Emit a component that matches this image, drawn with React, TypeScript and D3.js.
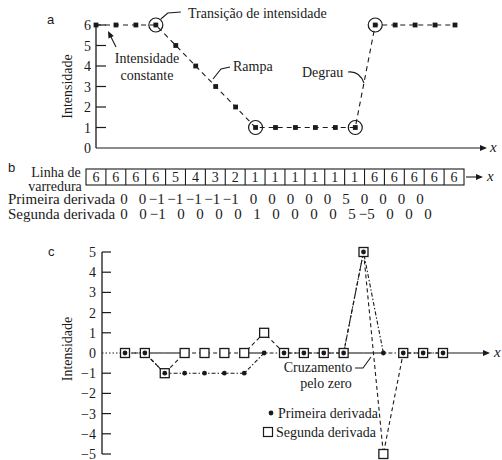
import React from 'react';
import * as d3 from 'd3';

// valores
const scanLine = [6, 6, 6, 6, 5, 4, 3, 2, 1, 1, 1, 1, 1, 1, 6, 6, 6, 6, 6];
const transitionPoints = [3, 8, 13, 14];
const intensityTicks = [0, 1, 2, 3, 4, 5, 6];
const firstDerivative = [0, 0, -1, -1, -1, -1, -1, 0, 0, 0, 0, 0, 5, 0, 0, 0, 0];
const secondDerivative = [0, 0, -1, 0, 0, 0, 0, 1, 0, 0, 0, 0, 5, -5, 0, 0, 0];
const derivativeTicks = [-5, -4, -3, -2, -1, 0, 1, 2, 3, 4, 5];

const SERIF = 'Liberation Serif';
const SANS = 'Liberation Sans';
const ink = '#1a1a1a';

const fmt = (v: number) => (v < 0 ? `\u2212${-v}` : `${v}`);

const Arrow = ({ x, y, angle = 0 }: { x: number; y: number; angle?: number }) => (
  <path d="M0,0 L-7,-3 L-7,3 Z" fill={ink} transform={`translate(${x},${y}) rotate(${angle})`} />
);

const T = (props: any) => (
  <text fontFamily={SERIF} fontSize={14} fill={ink} {...props} />
);

const App = () => {
  const width = 502;
  const height = 460;

  // painel a
  const xA = d3.scaleLinear().domain([0, scanLine.length - 1]).range([96, 455]);
  const yA = d3.scaleLinear().domain([0, 6]).range([148, 25]);
  const lineA = d3.line<number>().x((d, i) => xA(i)).y(d => yA(d));

  // painel b
  const xB = d3.scaleBand<number>().domain(d3.range(scanLine.length)).range([86, 464]);
  const row1 = d3.scaleLinear().domain([0, firstDerivative.length - 1]).range([124, 420]);
  const row2 = d3.scaleLinear().domain([0, secondDerivative.length - 1]).range([124, 428]);

  // painel c
  const xC = d3.scaleLinear().domain([0, firstDerivative.length - 1]).range([125, 443]);
  const yC = d3.scaleLinear().domain([-5, 5]).range([454, 252]);
  const lineC = d3.line<number>().x((d, i) => xC(i)).y(d => yC(d));

  // eixo x do painel c só aparece onde nenhuma série fica em zero
  const axisGaps = d3.range(firstDerivative.length - 1).filter(i =>
    !(firstDerivative[i] === 0 && firstDerivative[i + 1] === 0) &&
    !(secondDerivative[i] === 0 && secondDerivative[i + 1] === 0));

  const sq = 9;
  const leaderAngle = Math.atan2(31 - 47, 108 - 116) * 180 / Math.PI;

  return (
    <svg width={width} height={height} style={{ position: 'absolute', left: 0, top: 0, background: '#fff' }}>

      {/* ---------- a ---------- */}
      <text x={47} y={24} fontFamily={SANS} fontSize={13} fill={ink}>a</text>
      <T transform={`translate(72,${yA(3)}) rotate(-90)`} textAnchor="middle">Intensidade</T>
      <line x1={xA(0)} x2={xA(0)} y1={yA(0)} y2={yA(6)} stroke={ink} strokeWidth={1.3} />
      {intensityTicks.map(t => (
        <g key={t}>
          {t > 0 && <line x1={xA(0)} x2={xA(0) + 10} y1={yA(t)} y2={yA(t)} stroke={ink} strokeWidth={1.2} />}
          <T x={xA(0) - 5} y={yA(t) + 5} textAnchor="end">{t}</T>
        </g>
      ))}
      <line x1={xA(0)} x2={484} y1={yA(0)} y2={yA(0)} stroke={ink} strokeWidth={1.2} />
      <Arrow x={487} y={yA(0)} />
      <T x={490} y={yA(0) + 4} fontSize={15} fontStyle="italic">x</T>

      <path d={lineA(scanLine) || ''} fill="none" stroke={ink} strokeWidth={1.1} strokeDasharray="5,4" />
      {scanLine.map((v, i) => (
        <rect key={i} x={xA(i) - 2.4} y={yA(v) - 2.4} width={4.8} height={4.8} fill={ink} />
      ))}
      {transitionPoints.map(i => (
        <circle key={i} cx={xA(i)} cy={yA(scanLine[i])} r={7} fill="none" stroke={ink} strokeWidth={1.2} />
      ))}

      <path d={`M${xA(3) + 5},${yA(6) - 6} L${xA(3) + 12},${yA(6) - 12} L${xA(3) + 25},${yA(6) - 13}`} fill="none" stroke={ink} strokeWidth={1.1} />
      <T x={188} y={18}>Transição de intensidade</T>

      <path d="M116,47 L109,33" fill="none" stroke={ink} strokeWidth={1.1} />
      <Arrow x={108} y={31} angle={leaderAngle} />
      <T x={147} y={63} textAnchor="middle">Intensidade</T>
      <T x={147} y={80} textAnchor="middle">constante</T>

      <path d="M213,79 L221,69 L230,67" fill="none" stroke={ink} strokeWidth={1.1} />
      <T x={233} y={71}>Rampa</T>

      <path d="M348,72 C356,71 361,75 364,83" fill="none" stroke={ink} strokeWidth={1.1} />
      <T x={302} y={77}>Degrau</T>

      {/* ---------- b ---------- */}
      <text x={8} y={172} fontFamily={SANS} fontSize={13} fill={ink}>b</text>
      <T x={56} y={177} textAnchor="middle">Linha de</T>
      <T x={55} y={191} textAnchor="middle">varredura</T>
      <rect x={xB(0)} y={169} width={xB.step() * scanLine.length} height={16} fill="none" stroke={ink} strokeWidth={1.1} />
      {scanLine.map((v, i) => (
        <g key={i}>
          {i > 0 && <line x1={xB(i)} x2={xB(i)} y1={169} y2={185} stroke={ink} strokeWidth={1.1} />}
          <T x={(xB(i) || 0) + xB.bandwidth() / 2} y={182} textAnchor="middle">{v}</T>
        </g>
      ))}
      <line x1={466} x2={480} y1={177} y2={177} stroke={ink} strokeWidth={1.1} />
      <Arrow x={483} y={177} />
      <T x={487} y={181} fontSize={15} fontStyle="italic">x</T>

      <T x={8} y={204} fontSize={15}>Primeira derivada</T>
      {firstDerivative.map((v, i) => (
        <T key={i} x={row1(i) + 3.8} y={204} textAnchor="end" fontSize={15}>{fmt(v)}</T>
      ))}
      <T x={8} y={219} fontSize={15}>Segunda derivada</T>
      {secondDerivative.map((v, i) => (
        <T key={i} x={row2(i) + 3.8} y={219} textAnchor="end" fontSize={15}>{fmt(v)}</T>
      ))}

      {/* ---------- c ---------- */}
      <text x={48} y={256} fontFamily={SANS} fontSize={13} fill={ink}>c</text>
      <T transform={`translate(72,${yC(0) - 4}) rotate(-90)`} textAnchor="middle">Intensidade</T>
      <line x1={102} x2={102} y1={yC(-5)} y2={yC(5)} stroke={ink} strokeWidth={1.3} />
      {derivativeTicks.map(t => (
        <g key={t}>
          {t !== 0 && <line x1={102} x2={111} y1={yC(t)} y2={yC(t)} stroke={ink} strokeWidth={1.2} />}
          <T x={96} y={yC(t) + 5} textAnchor="end">{fmt(t)}</T>
        </g>
      ))}
      <line x1={102} x2={xC(0)} y1={yC(0)} y2={yC(0)} stroke={ink} strokeWidth={1.1} strokeDasharray="1.5,2" />
      {axisGaps.map(i => (
        <line key={i} x1={xC(i)} x2={xC(i + 1)} y1={yC(0)} y2={yC(0)} stroke={ink} strokeWidth={1.1} />
      ))}
      <line x1={xC(firstDerivative.length - 1)} x2={487} y1={yC(0)} y2={yC(0)} stroke={ink} strokeWidth={1.1} />
      <Arrow x={490} y={yC(0)} />
      <T x={494} y={yC(0) + 4} fontSize={15} fontStyle="italic">x</T>

      <path d={lineC(secondDerivative) || ''} fill="none" stroke={ink} strokeWidth={1.1} strokeDasharray="4,3" />
      <path d={lineC(firstDerivative) || ''} fill="none" stroke={ink} strokeWidth={1.1} strokeDasharray="4,2,1.5,2" />
      {secondDerivative.map((v, i) => (
        <rect key={i} x={xC(i) - sq / 2} y={yC(v) - sq / 2} width={sq} height={sq} fill="#fff" stroke={ink} strokeWidth={1.3} />
      ))}
      {firstDerivative.map((v, i) => (
        <circle key={i} cx={xC(i)} cy={yC(v)} r={2.4} fill={ink} />
      ))}

      <path d="M355,368 L363,368 L371,357" fill="none" stroke={ink} strokeWidth={1.1} />
      <T x={318} y={372} textAnchor="middle">Cruzamento</T>
      <T x={326} y={388} textAnchor="middle">pelo zero</T>

      <circle cx={271} cy={413} r={2.4} fill={ink} />
      <T x={278} y={418}>Primeira derivada</T>
      <rect x={268 - sq / 2} y={432 - sq / 2} width={sq} height={sq} fill="#fff" stroke={ink} strokeWidth={1.2} />
      <T x={276} y={437}>Segunda derivada</T>
    </svg>
  );
};

export default App;
